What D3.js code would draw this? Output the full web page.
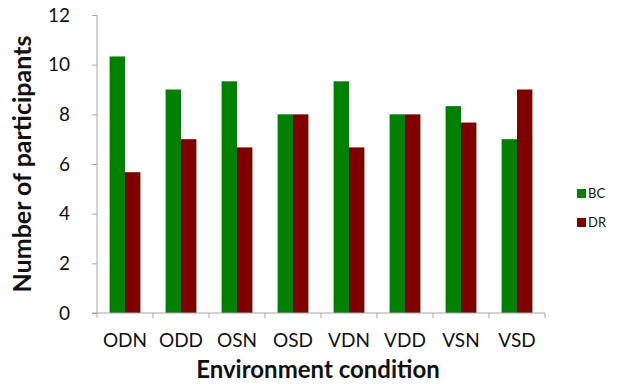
<!DOCTYPE html>
<html><head><meta charset="utf-8">
<script src="https://cdn.jsdelivr.net/npm/d3@7"></script>
<style>body{margin:0;background:#fff}svg{display:block}text{font-family:Lato,"Open Sans",sans-serif}</style>
</head><body>
<svg id="c" width="620" height="384"></svg>
<script>
const categories = ["ODN","ODD","OSN","OSD","VDN","VDD","VSN","VSD"];
const seriesNames = ["BC","DR"];
const bcValues = [10.33, 9, 9.33, 8, 9.33, 8, 8.33, 7];
const drValues = [5.67, 7, 6.67, 8, 6.67, 8, 7.67, 9];
const yTicks = [0,2,4,6,8,10,12];
const colors = ["#008000","#800000"];

(function(){
const svg = d3.select("#c");
const pL = 97, pR = 545, pT = 15, pB = 313;
const axisColor = "#a6a6a6";

const x = d3.scaleBand().domain(categories).range([pL,pR]).paddingInner(0.45).paddingOuter(0.225);
const xs = d3.scaleBand().domain(seriesNames).range([0,x.bandwidth()]);
const y = d3.scaleLinear().domain([0,12]).range([pB,pT]);

const data = categories.map((c,i)=>({c, vals:[bcValues[i], drValues[i]]}));

const g = svg.append("g");
g.selectAll("g.cat").data(data).join("g").attr("class","cat")
  .attr("transform", d=>`translate(${x(d.c)},0)`)
  .selectAll("rect").data(d=>d.vals.map((v,j)=>({s:seriesNames[j], v, j})))
  .join("rect")
  .attr("x", d=>xs(d.s)).attr("width", xs.bandwidth())
  .attr("y", d=>y(d.v)).attr("height", d=>y(0)-y(d.v))
  .attr("fill", d=>colors[d.j]);

const ya = svg.append("g").attr("transform",`translate(${pL},0)`)
  .call(d3.axisLeft(y).tickValues(yTicks).tickSize(5).tickPadding(22).tickFormat(d3.format("d")));
ya.select(".domain").attr("stroke",axisColor).attr("d",`M0,${pT}V${pB}`);
ya.selectAll(".tick line").attr("stroke",axisColor);
ya.selectAll(".tick text").attr("fill","#111").style("font-size","19px").attr("font-family","Lato");

const step = x.step();
const boundaries = categories.map(c=>x(c)-(step-x.bandwidth())/2).concat([pR]);
const xa = svg.append("g");
xa.append("line").attr("x1",pL-5).attr("x2",pR).attr("y1",pB).attr("y2",pB).attr("stroke",axisColor);
xa.selectAll("line.t").data(boundaries).join("line").attr("class","t")
  .attr("x1",d=>d).attr("x2",d=>d).attr("y1",pB).attr("y2",pB+5).attr("stroke",axisColor);
xa.selectAll("text").data(categories).join("text")
  .attr("x",d=>x(d)+x.bandwidth()/2).attr("y",347)
  .attr("text-anchor","middle").style("font-size","19px").attr("fill","#111").text(d=>d);

svg.append("text").attr("transform","translate(31,164) rotate(-90)")
  .attr("text-anchor","middle").style("font-size","25px").style("font-weight","bold").attr("fill","#111")
  .text("Number of participants");
svg.append("text").attr("x",318).attr("y",378)
  .attr("text-anchor","middle").style("font-size","24px").style("font-weight","bold").attr("fill","#111")
  .text("Environment condition");

const lg = svg.append("g");
seriesNames.forEach((s,i)=>{
  lg.append("rect").attr("x",577).attr("y",189+i*29).attr("width",9).attr("height",9).attr("fill",colors[i]);
  lg.append("text").attr("x",588).attr("y",198+i*29).style("font-size","13px").attr("fill","#111").text(s);
});
})();
</script>
</body></html>
